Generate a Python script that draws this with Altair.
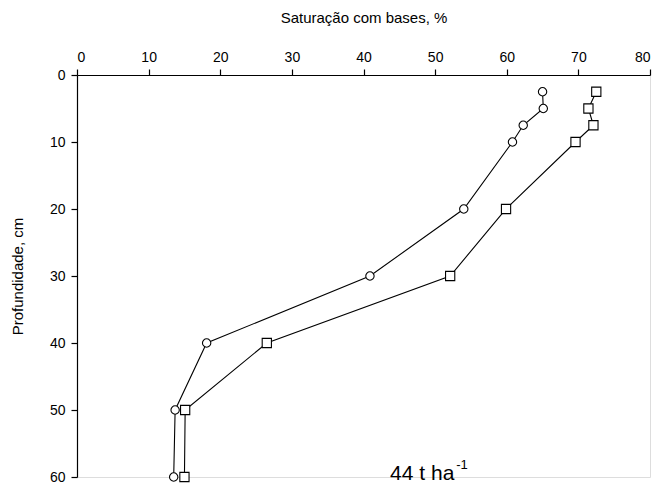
import altair as alt
import pandas as pd

depth = [2.5, 5, 7.5, 10, 20, 30, 40, 50, 60]
sat_circle = [65.0, 65.1, 62.3, 60.8, 54.0, 40.9, 18.1, 13.7, 13.5]
sat_square = [72.5, 71.4, 72.1, 69.6, 59.9, 52.1, 26.5, 15.1, 15.0]
x_ticks = [0, 10, 20, 30, 40, 50, 60, 70, 80]
y_ticks = [0, 10, 20, 30, 40, 50, 60]

rows = []
for d, c, s in zip(depth, sat_circle, sat_square):
    rows.append({"depth": d, "sat": c, "series": "circle"})
    rows.append({"depth": d, "sat": s, "series": "square"})
df = pd.DataFrame(rows)

FONT = "Liberation Sans"

x_enc = alt.X("sat:Q", scale=alt.Scale(domain=[0, 80], nice=False, zero=False),
              axis=alt.Axis(orient="top", values=x_ticks, title="Saturação com bases, %",
                            grid=False, domainColor="black", tickColor="black", tickSize=6,
                            labelColor="black", labelFont=FONT, labelFontSize=14,
                            titleFont=FONT, titleFontSize=15, titleFontWeight="normal",
                            titleColor="black", titlePadding=25, labelPadding=5,
                            domainWidth=1.2, tickWidth=1.2))
y_enc = alt.Y("depth:Q", scale=alt.Scale(domain=[0, 60], reverse=True, nice=False, zero=False),
              axis=alt.Axis(values=y_ticks, title="Profundidade, cm",
                            grid=False, domainColor="black", tickColor="black", tickSize=6,
                            labelColor="black", labelFont=FONT, labelFontSize=14,
                            titleFont=FONT, titleFontSize=15, titleFontWeight="normal",
                            titleColor="black", titlePadding=24, labelPadding=6,
                            domainWidth=1.2, tickWidth=1.2))

base = alt.Chart(df)

lines = base.mark_line(color="black", strokeWidth=1.1).encode(
    x=x_enc, y=y_enc, detail="series:N", order="depth:Q")

circles = base.transform_filter(alt.datum.series == "circle").mark_point(
    shape="circle", filled=True, fill="white", stroke="black", strokeWidth=1.1,
    size=70, opacity=1).encode(x=x_enc, y=y_enc)

squares = base.transform_filter(alt.datum.series == "square").mark_point(
    shape="square", filled=True, fill="white", stroke="black", strokeWidth=1.1,
    size=85, opacity=1).encode(x=x_enc, y=y_enc)

ann_df = pd.DataFrame({"sat": [48.2], "depth": [60.5]})
ann = alt.Chart(ann_df).mark_text(text="44 t ha", font=FONT, fontSize=21,
                                  align="center", baseline="alphabetic", color="black").encode(
    x="sat:Q", y="depth:Q")
sup = alt.Chart(ann_df).mark_text(text="-1", font=FONT, fontSize=13,
                                  align="left", baseline="alphabetic", color="black",
                                  dx=34, dy=-11).encode(x="sat:Q", y="depth:Q")

chart = alt.layer(lines, circles, squares, ann, sup).properties(
    width=573, height=402,
    autosize=alt.AutoSizeParams(type="none"),
    padding={"left": 69, "top": 67, "right": 4, "bottom": 10},
).configure_view(stroke=None).configure(background="white")

chart.save("out.html", embed_options={"renderer": "svg", "actions": False})
